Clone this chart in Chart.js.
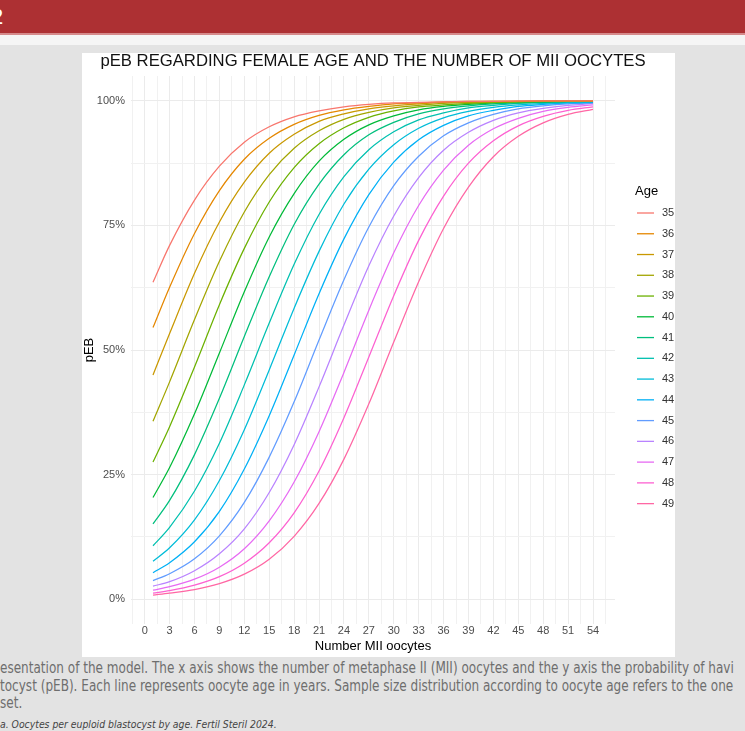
<!DOCTYPE html>
<html>
<head>
<meta charset="utf-8">
<script src="https://cdn.jsdelivr.net/npm/chart.js@4.4.1/dist/chart.umd.min.js"></script>
<style>
  html, body { margin: 0; padding: 0; }
  body { width: 745px; height: 731px; background: #e3e3e3; position: relative; overflow: hidden; font-family: 'Liberation Sans', Arial, sans-serif; }
  #topbar { position: absolute; left: 0; top: 0; width: 745px; height: 33px; background: #ad3033; border-bottom: 2px solid #d58a8b; }
  #strip { position: absolute; left: 0; top: 35px; width: 745px; height: 10px; background: #f5f5f5; }
  #slideNum { position: absolute; left: -9px; top: 4px; color: #fff; font-size: 22px; }
  #panel { position: absolute; left: 82px; top: 53px; width: 593px; height: 604px; background: #fff; }
  .cap { position: absolute; left: 0; white-space: nowrap; color: #6e6e6e; font-family: 'Liberation Sans Narrow', 'DejaVu Sans Condensed', sans-serif; font-size: 15px; line-height: 17px; transform: scaleX(0.893); transform-origin: 0 0; }
  .ref { color: #444; font-style: italic; font-size: 11px; line-height: 13px; transform: scaleX(0.94); }
</style>
</head>
<body>
<div id="topbar"><span id="slideNum">2</span></div>
<div id="strip"></div>
<div id="panel"><canvas id="pebChart" width="593" height="604"></canvas></div>
<div class="cap" style="top:660px">esentation of the model. The x axis shows the number of metaphase II (MII) oocytes and the y axis the probability of havi</div>
<div class="cap" style="top:678px">tocyst (pEB). Each line represents oocyte age in years. Sample size distribution according to oocyte age refers to the one</div>
<div class="cap" style="top:695px">set.</div>
<div class="cap ref" style="top:718px">a. Oocytes per euploid blastocyst by age. Fertil Steril 2024.</div>

<script>
// ages (legend) and their ggplot hue colours
const ages = ['35', '36', '37', '38', '39', '40', '41', '42', '43', '44', '45', '46', '47', '48', '49'];
const colors = ['#F8766D', '#E58700', '#C99800', '#A3A500', '#6BB100', '#00BA38', '#00BF7D', '#00C0AF',
                '#00BCD8', '#00B0F6', '#619CFF', '#B983FF', '#E76BF3', '#FD61D1', '#FF67A4'];

// number of MII oocytes where the curves were read
const oocytes = [1, 3, 6, 9, 12, 15, 18, 21, 24, 27, 30, 33, 36, 39, 42, 45, 48, 51, 54];

// pEB (%), one array per age
const peb35 = [63.6, 71.0, 80.1, 86.9, 91.7, 94.8, 96.8, 98.0, 98.8, 99.3, 99.6, 99.7, 99.8, 99.9, 99.9, 100, 100, 100, 100];
const peb36 = [54.5, 62.6, 73.4, 82.0, 88.3, 92.5, 95.3, 97.1, 98.2, 98.9, 99.4, 99.6, 99.8, 99.9, 99.9, 99.9, 100, 100, 100];
const peb37 = [45.0, 53.3, 65.4, 75.7, 83.7, 89.5, 93.3, 95.9, 97.4, 98.4, 99.0, 99.4, 99.7, 99.8, 99.9, 99.9, 100, 100, 100];
const peb38 = [35.7, 43.6, 56.1, 67.8, 77.7, 85.2, 90.5, 94.0, 96.3, 97.7, 98.6, 99.1, 99.5, 99.7, 99.8, 99.9, 99.9, 100, 100];
const peb39 = [27.5, 34.6, 46.6, 59.1, 70.4, 79.7, 86.6, 91.4, 94.6, 96.7, 98.0, 98.8, 99.2, 99.5, 99.7, 99.8, 99.9, 99.9, 100];
const peb40 = [20.4, 26.4, 37.2, 49.4, 61.7, 72.7, 81.4, 87.9, 92.3, 95.2, 97.0, 98.2, 98.9, 99.3, 99.6, 99.8, 99.8, 99.9, 99.9];
const peb41 = [15.1, 19.8, 29.0, 40.3, 52.7, 64.7, 75.2, 83.3, 89.2, 93.2, 95.7, 97.4, 98.4, 99.0, 99.4, 99.6, 99.8, 99.9, 99.9];
const peb42 = [10.7, 14.4, 21.7, 31.3, 43.0, 55.4, 67.2, 77.2, 84.8, 90.2, 93.8, 96.2, 97.6, 98.6, 99.1, 99.5, 99.7, 99.8, 99.9];
const peb43 = [7.6, 10.3, 15.9, 23.8, 34.0, 46.0, 58.4, 69.8, 79.3, 86.3, 91.2, 94.5, 96.6, 97.9, 98.7, 99.2, 99.5, 99.7, 99.8];
const peb44 = [5.3, 7.3, 11.5, 17.6, 26.1, 36.8, 49.0, 61.3, 72.3, 81.2, 87.7, 92.2, 95.1, 97.0, 98.1, 98.9, 99.3, 99.6, 99.7];
const peb45 = [3.7, 5.1, 8.1, 12.7, 19.4, 28.5, 39.6, 52.0, 64.1, 74.7, 83.0, 88.9, 93.0, 95.6, 97.3, 98.4, 99.0, 99.4, 99.6];
const peb46 = [2.6, 3.5, 5.7, 9.1, 14.1, 21.4, 31.0, 42.6, 55.0, 66.9, 76.9, 84.6, 90.1, 93.7, 96.1, 97.6, 98.5, 99.1, 99.5];
const peb47 = [1.8, 2.5, 4.0, 6.4, 10.1, 15.7, 23.5, 33.6, 45.5, 58.0, 69.5, 79.0, 86.1, 91.1, 94.4, 96.5, 97.9, 98.7, 99.2];
const peb48 = [1.2, 1.7, 2.8, 4.5, 7.2, 11.3, 17.3, 25.7, 36.4, 48.6, 60.9, 72.0, 80.9, 87.5, 92.0, 95.0, 96.9, 98.1, 98.8];
const peb49 = [0.8, 1.2, 1.9, 3.1, 5.0, 8.0, 12.6, 19.2, 28.1, 39.2, 51.6, 63.7, 74.4, 82.7, 88.8, 92.9, 95.6, 97.3, 98.3];

const series = [peb35, peb36, peb37, peb38, peb39, peb40, peb41, peb42, peb43, peb44, peb45, peb46, peb47, peb48, peb49];

// axis ticks
const xTicks = [0, 3, 6, 9, 12, 15, 18, 21, 24, 27, 30, 33, 36, 39, 42, 45, 48, 51, 54];
const yTicks = [0, 25, 50, 75, 100];
const yTickLabels = ['0%', '25%', '50%', '75%', '100%'];

const chartTitle = 'pEB REGARDING FEMALE AGE AND THE NUMBER OF MII OOCYTES';
const FONT = "'Liberation Sans', Arial, sans-serif";

// title centred over the plot panel and ggplot-like legend on the right
const panelText = {
  id: 'panelText',
  afterDraw(chart) {
    const ctx = chart.ctx;
    const area = chart.chartArea;
    ctx.save();
    ctx.textBaseline = 'middle';
    ctx.textAlign = 'center';
    ctx.fillStyle = '#111';
    ctx.font = '16.7px ' + FONT;
    ctx.fillText(chartTitle, (area.left + area.right) / 2, 8.5);

    ctx.textAlign = 'left';
    ctx.fillStyle = '#000';
    ctx.font = '13px ' + FONT;
    ctx.fillText('Age', 553, 138);
    ctx.font = '11px ' + FONT;
    chart.data.datasets.forEach((ds, i) => {
      const y = 160 + i * 20.76;
      ctx.strokeStyle = ds.borderColor;
      ctx.lineWidth = 1.3;
      ctx.beginPath();
      ctx.moveTo(555, y);
      ctx.lineTo(572, y);
      ctx.stroke();
      ctx.fillStyle = '#333';
      ctx.fillText(ds.label, 580, y);
    });
    ctx.restore();
  }
};

const gridColor = (c) => (c.tick && c.tick.minor) ? '#f1f1f1' : '#ebebeb';

new Chart(document.getElementById('pebChart'), {
  type: 'line',
  data: {
    datasets: ages.map((age, i) => ({
      label: age,
      data: oocytes.map((n, j) => ({ x: n, y: series[i][j] })),
      borderColor: colors[i],
      backgroundColor: colors[i],
      borderWidth: 1.25,
      pointRadius: 0,
      cubicInterpolationMode: 'monotone',
      fill: false
    }))
  },
  options: {
    responsive: false,
    animation: false,
    layout: { padding: { left: 0, right: 60, top: 23, bottom: 0 } },
    plugins: {
      legend: { display: false },
      tooltip: { enabled: false },
      title: { display: false }
    },
    scales: {
      x: {
        type: 'linear',
        min: -1.65,
        max: 56.65,
        afterBuildTicks: (scale) => {
          const t = [{ value: xTicks[0] - 1.5, minor: true }];
          xTicks.forEach(v => { t.push({ value: v }); t.push({ value: v + 1.5, minor: true }); });
          scale.ticks = t;
        },
        afterFit: (scale) => { scale.height = 33; },
        grid: { color: gridColor, lineWidth: 1, drawTicks: false },
        border: { display: false },
        ticks: {
          autoSkip: false,
          maxRotation: 0,
          padding: 0,
          color: '#4d4d4d',
          font: { family: FONT, size: 11 },
          callback: function (value, index, ticks) { return ticks[index].minor ? '' : String(value); }
        },
        title: {
          display: true,
          text: 'Number MII oocytes',
          color: '#000',
          font: { family: FONT, size: 13 },
          padding: { top: 0, bottom: 3 }
        }
      },
      y: {
        min: -5,
        max: 105,
        afterBuildTicks: (scale) => {
          const t = [];
          yTicks.forEach(v => { t.push({ value: v }); if (v < 100) t.push({ value: v + 12.5, minor: true }); });
          scale.ticks = t;
        },
        afterFit: (scale) => { scale.width = 49; },
        grid: { color: gridColor, lineWidth: 1, drawTicks: false },
        border: { display: false },
        ticks: {
          autoSkip: false,
          padding: 6,
          color: '#4d4d4d',
          font: { family: FONT, size: 11 },
          callback: function (value, index, ticks) {
            return ticks[index].minor ? '' : yTickLabels[yTicks.indexOf(value)];
          }
        },
        title: {
          display: true,
          text: 'pEB',
          color: '#000',
          font: { family: FONT, size: 13 },
          padding: { top: 0, bottom: 0 }
        }
      }
    }
  },
  plugins: [panelText]
});
</script>
</body>
</html>
